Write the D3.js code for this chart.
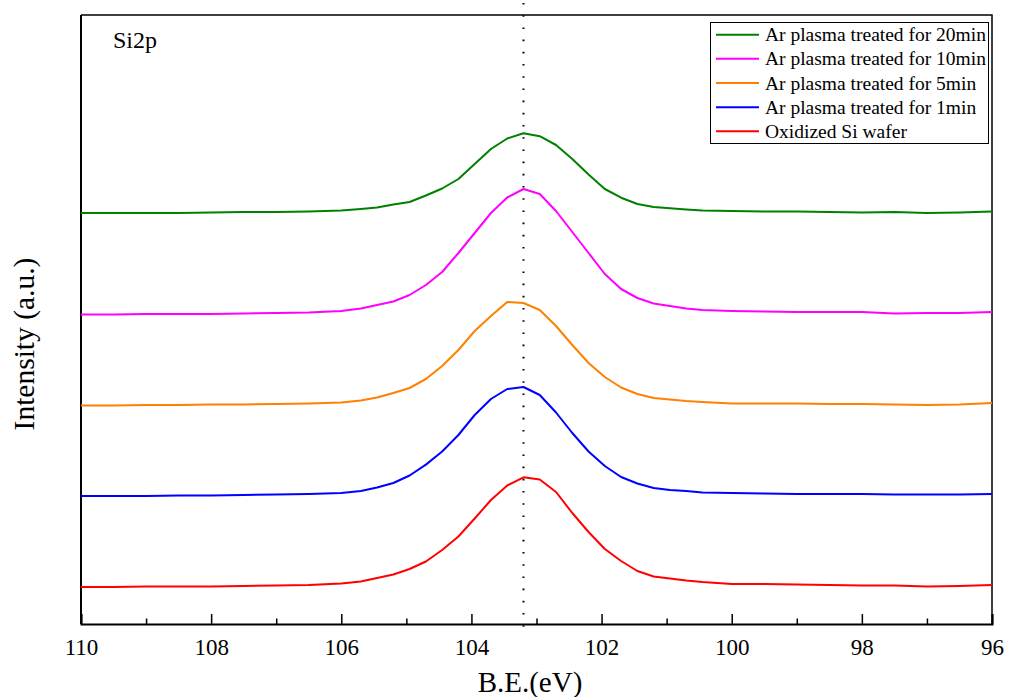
<!DOCTYPE html>
<html>
<head>
<meta charset="utf-8">
<script src="https://cdn.jsdelivr.net/npm/d3@7"></script>
<style>
  html, body { margin: 0; padding: 0; background: #fff; }
  svg { display: block; }
  svg text { font-family: 'Liberation Serif', 'Times New Roman', serif; fill: #000; }
</style>
</head>
<body>
<svg id="chart" width="1010" height="697"></svg>
<script>
// Binding energy (eV) sampling points shared by all spectra
const energies = [110, 109.5, 109, 108.5, 108, 107.5, 107, 106.5, 106, 105.7,
  105.45, 105.2, 104.95, 104.7, 104.45, 104.2, 103.95, 103.7, 103.45, 103.2,
  102.95, 102.7, 102.45, 102.2, 101.95, 101.7, 101.45, 101.2, 100.95, 100.7,
  100.45, 100, 99.5, 99, 98.5, 98, 97.5, 97, 96.5, 96];

// Offset (stacked) intensities, arbitrary units
const ar20min = [411, 411, 411, 411, 411.5, 412, 412, 412.5, 413.5, 415,
  416.5, 419.5, 422, 428.5, 435.5, 445, 460, 475, 485.5, 490.7,
  487.8, 479, 465, 449.5, 435, 426.3, 420, 417, 415.7, 414.5,
  413.6, 413, 412.5, 412.5, 412, 411.5, 412, 411, 411.5, 412.5];
const ar10min = [309.5, 309.5, 310, 310, 310, 310.5, 311, 311.5, 313, 315.5,
  319, 322.5, 329, 339, 352, 371, 391, 411, 426.5, 435,
  430, 413, 392, 371, 350, 335, 326, 320.5, 318, 315.5,
  314, 313, 312.5, 312, 312, 312, 310.5, 311, 311, 312];
const ar5min = [218.5, 218.5, 219, 219, 219.5, 219.5, 220, 220.5, 221.5, 223.5,
  226.5, 231, 236, 245, 258, 274, 293, 308, 322, 321,
  314, 298, 279, 261, 247, 236.5, 230, 226, 224.5, 223,
  222, 220.5, 220.5, 220.5, 220, 220, 219.5, 219, 219.5, 221];
const ar1min = [128, 128, 128, 128.5, 128.5, 129, 129.5, 130, 131, 133,
  136.5, 141, 148.5, 159.4, 172.5, 189, 209, 225, 235, 237,
  229, 211.5, 191, 172.5, 158, 147, 140.5, 136, 134, 133,
  131.5, 131, 130.5, 130, 130, 130, 129.5, 129.5, 129.5, 130];
const oxidized = [37, 37, 37.5, 37.5, 37.5, 38, 38.5, 39, 40.5, 42.5,
  46, 49.5, 55, 62.5, 74, 87.5, 105.5, 124, 138.5, 146.7,
  144.5, 132, 111, 92, 75, 63, 53, 47.5, 45.5, 43.5,
  42, 40, 40, 39.5, 39, 38.5, 38.5, 37.5, 38, 39];

const seriesNames = ["Ar plasma treated for 20min", "Ar plasma treated for 10min",
  "Ar plasma treated for 5min", "Ar plasma treated for 1min", "Oxidized Si wafer"];
const seriesColors = ["#008000", "#ff00ff", "#ff8000", "#0000ff", "#ff0000"];
const seriesValues = [ar20min, ar10min, ar5min, ar1min, oxidized];

const majorTicks = [110, 108, 106, 104, 102, 100, 98, 96];
const minorTicks = [109, 107, 105, 103, 101, 99, 97];
const peakPosition = 103.2;

(function draw() {
  const svg = d3.select("#chart");
  const mLeft = 81, mRight = 992, mTop = 15, mBottom = 624;

  const x = d3.scaleLinear().domain([110, 96]).range([mLeft, mRight]);
  const y = d3.scaleLinear().domain([0, 609]).range([mBottom, mTop]);

  // Frame (top and right edges)
  svg.append("path")
    .attr("d", `M${mLeft},${mTop}H${mRight}V${mBottom}`)
    .attr("fill", "none").attr("stroke", "#000").attr("stroke-width", 1.5);

  // Left axis line
  svg.append("line")
    .attr("x1", mLeft).attr("x2", mLeft).attr("y1", mTop).attr("y2", mBottom)
    .attr("stroke", "#000").attr("stroke-width", 2);

  // Bottom axis: minor then major ticks pointing inward
  svg.append("g")
    .attr("transform", `translate(0,${mBottom})`)
    .call(d3.axisBottom(x).tickValues(minorTicks).tickSize(-5.5).tickFormat(""))
    .call(g => g.select(".domain").remove())
    .call(g => g.selectAll(".tick line").attr("stroke-width", 1.5));

  const xAxis = svg.append("g")
    .attr("transform", `translate(0,${mBottom})`)
    .call(d3.axisBottom(x).tickValues(majorTicks).tickSize(-10).tickPadding(15)
      .tickFormat(d3.format("d")));
  xAxis.attr("font-family", null).attr("font-size", null);
  xAxis.select(".domain").attr("stroke-width", 2);
  xAxis.selectAll(".tick line").attr("stroke-width", 1.5);
  xAxis.selectAll(".tick text").style("font-size", "23px");

  // Reference line at the Si2p peak position
  svg.append("line")
    .attr("x1", x(peakPosition)).attr("x2", x(peakPosition))
    .attr("y1", 3).attr("y2", 632)
    .attr("stroke", "#000").attr("stroke-width", 2)
    .attr("stroke-dasharray", "1.6,10.6");

  // Spectra
  const line = d3.line()
    .x((d, i) => x(energies[i]))
    .y(d => y(d));

  seriesValues.forEach((vals, k) => {
    svg.append("path")
      .datum(vals)
      .attr("d", line)
      .attr("fill", "none")
      .attr("stroke", seriesColors[k])
      .attr("stroke-width", 2)
      .attr("stroke-linejoin", "round");
  });

  // Axis titles
  svg.append("text")
    .attr("x", 530).attr("y", 692)
    .attr("text-anchor", "middle").style("font-size", "29px")
    .text("B.E.(eV)");

  svg.append("text")
    .attr("transform", "translate(34,344) rotate(-90)")
    .attr("text-anchor", "middle").style("font-size", "29.5px")
    .text("Intensity (a.u.)");

  // Panel label
  svg.append("text")
    .attr("x", 113).attr("y", 48)
    .style("font-size", "24px")
    .text("Si2p");

  // Legend
  const legend = svg.append("g");
  legend.append("rect")
    .attr("x", 710.5).attr("y", 22.5).attr("width", 278).attr("height", 121)
    .attr("fill", "#fff").attr("stroke", "#000").attr("stroke-width", 1);

  seriesNames.forEach((name, k) => {
    const yy = 34.7 + k * 24.15;
    legend.append("line")
      .attr("x1", 716).attr("x2", 759).attr("y1", yy).attr("y2", yy)
      .attr("stroke", seriesColors[k]).attr("stroke-width", 2);
    legend.append("text")
      .attr("x", 765).attr("y", yy + 6.5)
      .style("font-size", "19.5px")
      .text(name);
  });
})();
</script>
</body>
</html>
